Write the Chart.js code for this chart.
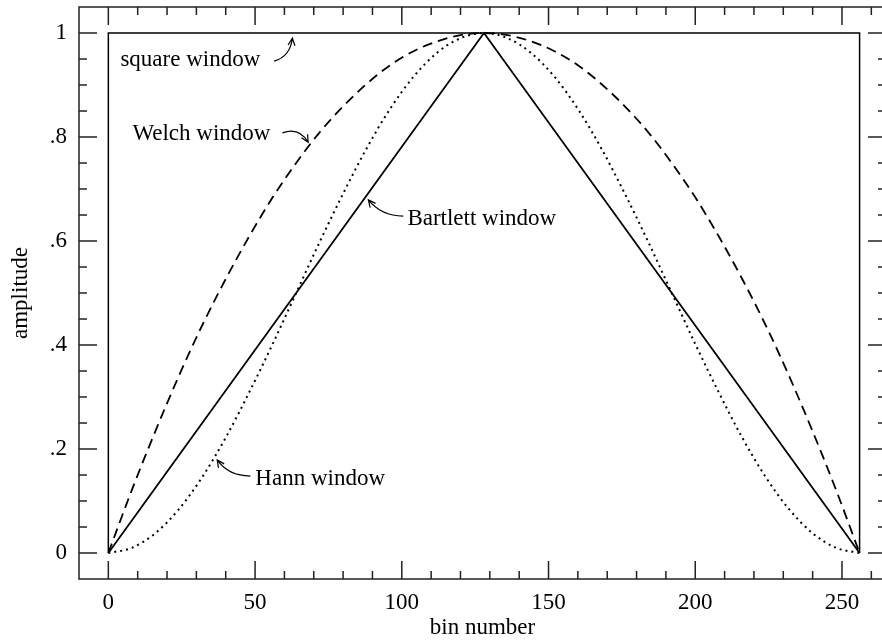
<!DOCTYPE html>
<html>
<head>
<meta charset="utf-8">
<script src="https://cdn.jsdelivr.net/npm/chart.js@4"></script>
<style>
  html, body { margin: 0; padding: 0; background: #fff; overflow: hidden; }
  #wrap { width: 890px; height: 642px; }
</style>
</head>
<body>
<div id="wrap"><canvas id="myChart"></canvas></div>
<script>
// bins sampled every 8
const binX = [0, 8, 16, 24, 32, 40, 48, 56, 64, 72, 80, 88, 96, 104, 112, 120, 128,
  136, 144, 152, 160, 168, 176, 184, 192, 200, 208, 216, 224, 232, 240, 248, 256];
const welch = [0, 0.121, 0.234, 0.34, 0.438, 0.527, 0.609, 0.684, 0.75, 0.809, 0.859, 0.902, 0.938, 0.965, 0.984, 0.996, 1,
  0.996, 0.984, 0.965, 0.938, 0.902, 0.859, 0.809, 0.75, 0.684, 0.609, 0.527, 0.438, 0.34, 0.234, 0.121, 0];
const hann = [0, 0.01, 0.038, 0.084, 0.146, 0.222, 0.309, 0.402, 0.5, 0.598, 0.691, 0.778, 0.854, 0.916, 0.962, 0.99, 1,
  0.99, 0.962, 0.916, 0.854, 0.778, 0.691, 0.598, 0.5, 0.402, 0.309, 0.222, 0.146, 0.084, 0.038, 0.01, 0];
const bartlettX = [0, 128, 256];
const bartlett = [0, 1, 0];
const squareX = [0, 0, 256, 256];
const square = [0, 1, 1, 0];

const xTicks = [0, 50, 100, 150, 200, 250];
const yTicks = [0, 0.2, 0.4, 0.6, 0.8, 1];
const yTickLabels = ["0", ".2", ".4", ".6", ".8", "1"];

const FONT = "'Liberation Serif', 'Times New Roman', serif";

function pts(xs, ys) {
  return xs.map((x, i) => ({ x: x, y: ys[i] }));
}

// labels with curved arrows, in data coordinates
const notes = [
  { text: "square window", at: [4.1, 0.948], tail: [56.5, 0.946], ctrl: [62, 0.955], tip: [62.7, 0.99] },
  { text: "Welch window", at: [8.2, 0.806], tail: [59.3, 0.808], ctrl: [65, 0.82], tip: [68.1, 0.79] },
  { text: "Bartlett window", at: [101.9, 0.642], tail: [100.5, 0.648], ctrl: [93, 0.648], tip: [88.6, 0.679] },
  { text: "Hann window", at: [50.1, 0.142], tail: [48.4, 0.148], ctrl: [40.9, 0.148], tip: [37.1, 0.179] },
];

const frameTicks = {
  id: "frameTicks",
  afterDraw(chart) {
    const { ctx, chartArea: a, scales } = chart;
    const xs = scales.x, ys = scales.y;
    ctx.save();
    ctx.strokeStyle = "#222";
    ctx.lineWidth = 1.5;
    ctx.strokeRect(a.left, a.top, a.right - a.left, a.bottom - a.top);
    ctx.beginPath();
    for (let i = 0; i <= 26; i++) {
      const px = xs.getPixelForValue(i * 10);
      const len = i % 5 === 0 ? 18 : 8;
      ctx.moveTo(px, a.bottom); ctx.lineTo(px, a.bottom - len);
      ctx.moveTo(px, a.top); ctx.lineTo(px, a.top + len);
    }
    for (let i = 0; i <= 20; i++) {
      const py = ys.getPixelForValue(i * 0.05);
      const len = i % 4 === 0 ? 18 : 8;
      ctx.moveTo(a.left, py); ctx.lineTo(a.left + len, py);
      ctx.moveTo(a.right, py); ctx.lineTo(a.right - len, py);
    }
    ctx.stroke();

    // annotations
    ctx.fillStyle = "#000";
    ctx.strokeStyle = "#000";
    ctx.lineWidth = 1.2;
    ctx.font = "23px " + FONT;
    ctx.textBaseline = "middle";
    notes.forEach(n => {
      const X = v => xs.getPixelForValue(v), Y = v => ys.getPixelForValue(v);
      ctx.textAlign = "left";
      ctx.fillText(n.text, X(n.at[0]), Y(n.at[1]));
      const t0 = [X(n.tail[0]), Y(n.tail[1])];
      const c = [X(n.ctrl[0]), Y(n.ctrl[1])];
      const t1 = [X(n.tip[0]), Y(n.tip[1])];
      ctx.beginPath();
      ctx.moveTo(t0[0], t0[1]);
      ctx.quadraticCurveTo(c[0], c[1], t1[0], t1[1]);
      const ang = Math.atan2(t1[1] - c[1], t1[0] - c[0]);
      const h = 8;
      ctx.moveTo(t1[0] - h * Math.cos(ang - 0.45), t1[1] - h * Math.sin(ang - 0.45));
      ctx.lineTo(t1[0], t1[1]);
      ctx.lineTo(t1[0] - h * Math.cos(ang + 0.45), t1[1] - h * Math.sin(ang + 0.45));
      ctx.stroke();
    });
    ctx.restore();
  },
};

const ctx = document.getElementById("myChart");

new Chart(ctx, {
  type: "scatter",
  data: {
    datasets: [
      { label: "square", data: pts(squareX, square), borderWidth: 1.5 },
      { label: "Bartlett", data: pts(bartlettX, bartlett), borderWidth: 1.8 },
      { label: "Welch", data: pts(binX, welch), borderWidth: 1.8, borderDash: [10, 6], cubicInterpolationMode: "monotone" },
      { label: "Hann", data: pts(binX, hann), borderWidth: 2, borderDash: [2, 4], cubicInterpolationMode: "monotone" },
    ].map(d => Object.assign({ showLine: true, pointRadius: 0, borderColor: "#000", fill: false }, d)),
  },
  options: {
    responsive: true,
    maintainAspectRatio: false,
    animation: false,
    layout: { padding: { top: 7, right: 4, bottom: 0, left: 0 } },
    plugins: { legend: { display: false }, tooltip: { enabled: false } },
    scales: {
      x: {
        type: "linear",
        min: -10,
        max: 265,
        grid: { display: false, drawTicks: false },
        border: { display: false },
        afterBuildTicks: s => { s.ticks = xTicks.map(v => ({ value: v })); },
        afterFit: s => { s.height = 63; s.paddingLeft = 0; s.paddingRight = 0; },
        ticks: { color: "#000", font: { family: FONT, size: 23 }, padding: 10, maxRotation: 0, autoSkip: false },
        title: { display: true, text: "bin number", color: "#000", font: { family: FONT, size: 23 }, padding: 0 },
      },
      y: {
        type: "linear",
        min: -0.05,
        max: 1.05,
        grid: { display: false, drawTicks: false },
        border: { display: false },
        afterBuildTicks: s => { s.ticks = yTicks.map(v => ({ value: v })); },
        afterFit: s => { s.width = 79; s.paddingTop = 0; s.paddingBottom = 0; },
        ticks: { color: "#000", font: { family: FONT, size: 23 }, padding: 12, callback: (v, i) => yTickLabels[i] },
        title: { display: true, text: "amplitude", color: "#000", font: { family: FONT, size: 23 }, padding: { top: 7, bottom: 0 } },
      },
    },
  },
  plugins: [frameTicks],
});
</script>
</body>
</html>
